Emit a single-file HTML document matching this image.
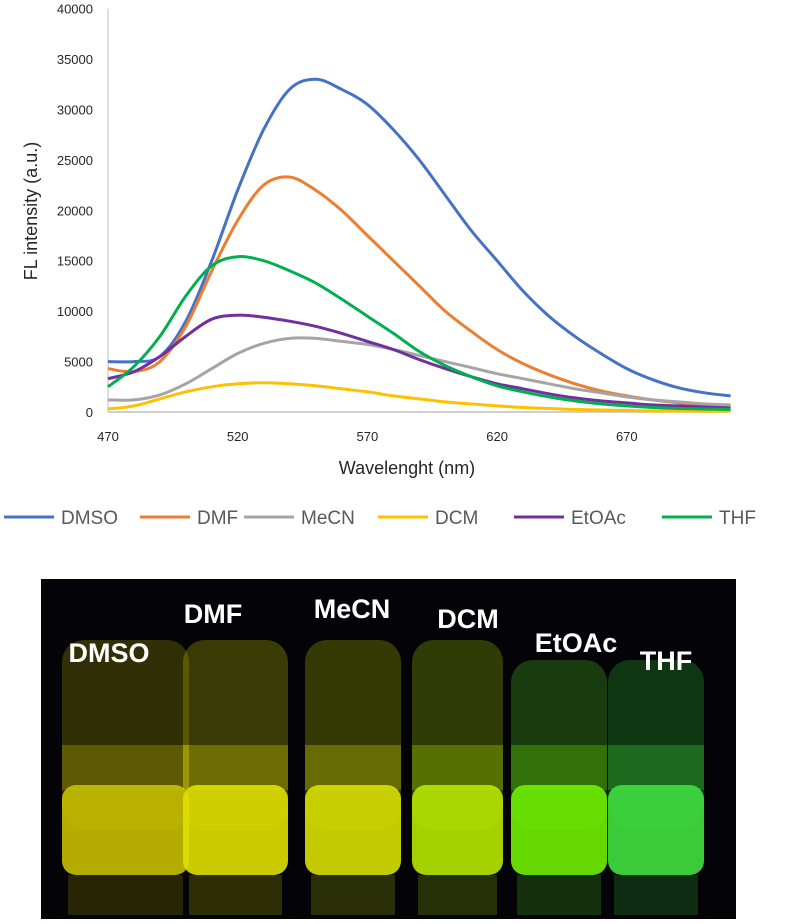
<!DOCTYPE html>
<html><head><meta charset="utf-8"><style>
body{margin:0;background:#fff;width:793px;height:924px;overflow:hidden;font-family:"Liberation Sans",sans-serif}
svg{position:absolute;left:0;top:0}
</style></head><body>
<svg width="793" height="924" id="chart">
<g id="plot"></g>
<g id="photo"></g>
</svg>
<script>
const wavelengths=[470,480,490,500,510,520,530,540,550,560,570,580,590,600,610,620,630,640,650,660,670,680,690,700,710];
const dmso=[5000,5000,5500,9000,15000,22000,28000,32000,33000,32000,30500,28000,25000,21500,18000,15000,12000,9500,7500,5800,4300,3200,2400,1900,1600];
const dmf=[4300,4000,5000,8500,14000,19000,22500,23300,22000,20000,17500,15000,12500,10000,8000,6200,4800,3700,2800,2100,1600,1200,900,700,600];
const mecn=[1200,1200,1700,2800,4300,5800,6800,7300,7300,7000,6700,6200,5600,5000,4400,3800,3300,2800,2300,1900,1500,1200,1000,800,700];
const dcm=[300,600,1300,2000,2500,2800,2900,2800,2600,2300,2000,1600,1300,1000,800,600,450,350,250,200,150,100,100,80,80];
const etoac=[3300,4000,5500,7500,9200,9600,9400,9000,8500,7800,7000,6200,5200,4300,3500,2800,2300,1800,1400,1100,900,700,600,500,400];
const thf=[2500,4500,7500,11500,14500,15400,15000,14000,12800,11200,9500,7800,6000,4600,3500,2600,2000,1500,1100,800,600,450,350,300,250];
const yTicks=[0,5000,10000,15000,20000,25000,30000,35000,40000];
const xTicks=[470,520,570,620,670];
const seriesNames=["DMSO","DMF","MeCN","DCM","EtOAc","THF"];
const seriesColors=["#4472c4","#ed7d31","#a5a5a5","#ffc000","#7030a0","#00b050"];
const seriesData=[dmso,dmf,mecn,dcm,etoac,thf];

const NS="http://www.w3.org/2000/svg";
const X=v=>108+(v-470)*2.594;
const Y=v=>412-v*0.010085;
const plot=document.getElementById('plot');
function mk(tag,attrs,parent,text){const e=document.createElementNS(NS,tag);for(const k in attrs)e.setAttribute(k,attrs[k]);if(text!==undefined)e.textContent=text;parent.appendChild(e);return e;}
function smooth(pts){let d='M'+pts[0][0].toFixed(1)+','+pts[0][1].toFixed(1);
 for(let i=0;i<pts.length-1;i++){const p0=pts[Math.max(i-1,0)],p1=pts[i],p2=pts[i+1],p3=pts[Math.min(i+2,pts.length-1)];
 const c1=[p1[0]+(p2[0]-p0[0])/6,p1[1]+(p2[1]-p0[1])/6],c2=[p2[0]-(p3[0]-p1[0])/6,p2[1]-(p3[1]-p1[1])/6];
 d+=' C'+c1[0].toFixed(1)+','+c1[1].toFixed(1)+' '+c2[0].toFixed(1)+','+c2[1].toFixed(1)+' '+p2[0].toFixed(1)+','+p2[1].toFixed(1);}
 return d;}

const ax=mk('line',{x1:108,y1:Y(40000),x2:108,y2:412,stroke:'#bfbfbf','stroke-width':1},plot);

const bx=mk('line',{x1:108,y1:412,x2:X(710),y2:412,stroke:'#bfbfbf','stroke-width':1.5},plot);

yTicks.forEach(t=>{const e=mk('text',{x:93,y:Y(t)+5,'text-anchor':'end','font-size':13,fill:'#262626'},plot,String(t));
});
xTicks.forEach(t=>{const e=mk('text',{x:X(t),y:441,'text-anchor':'middle','font-size':13,fill:'#262626'},plot,String(t));
});
const xt=mk('text',{x:407,y:474,'text-anchor':'middle','font-size':18,fill:'#262626'},plot,'Wavelenght (nm)');

const yt=mk('text',{x:37,y:211,'text-anchor':'middle','font-size':18,fill:'#262626',transform:'rotate(-90 37 211)'},plot,'FL intensity  (a.u.)');


seriesData.forEach((d,i)=>{
  const p=mk('path',{d:smooth(d.map((v,j)=>[X(wavelengths[j]),Y(v)])),fill:'none',stroke:seriesColors[i],'stroke-width':3,'stroke-linejoin':'round'},plot);
  
  
});
const legX=[4,140,244,378,514,662];
seriesNames.forEach((n,i)=>{
  const g=mk('g',{},plot);
  
  
  mk('line',{x1:legX[i],y1:517,x2:legX[i]+50,y2:517,stroke:seriesColors[i],'stroke-width':3},g);
  mk('text',{x:legX[i]+57,y:524,'font-size':19,fill:'#595959'},g,n);
});

const ph=document.getElementById('photo');
const bg=mk('rect',{x:41,y:579,width:695,height:340,fill:'#030308'},ph);

const vials=[[58,193,640,'#c8c000','#a8a000'],[179,292,640,'#e0e000','#c8c800'],[301,405,640,'#d8e000','#b8c800'],[408,507,640,'#b8e800','#a0d000'],[507,611,660,'#70f000','#50d020'],[604,708,660,'#40e040','#30c030']];
vials.forEach((v,i)=>{
  const g=mk('g',{},ph);
  
  
  const w=v[1]-v[0];
  mk('rect',{x:v[0]+4,y:v[2],width:w-8,height:830-v[2],rx:22,fill:v[4],opacity:0.28},g);
  mk('rect',{x:v[0]+4,y:745,width:w-8,height:45,fill:v[3],opacity:0.3},g);
  mk('rect',{x:v[0]+4,y:785,width:w-8,height:90,rx:14,fill:v[3],opacity:0.9},g);
  mk('rect',{x:v[0]+10,y:875,width:w-20,height:40,fill:v[4],opacity:0.22},g);
});
const labs=[["DMSO",109,662],["DMF",213,623],["MeCN",352,618],["DCM",468,628],["EtOAc",576,652],["THF",666,670]];
labs.forEach(l=>{const e=mk('text',{x:l[1],y:l[2],'text-anchor':'middle','font-size':27,'font-weight':'bold',fill:'#fff'},ph,l[0]);
});
</script>
</body></html>
